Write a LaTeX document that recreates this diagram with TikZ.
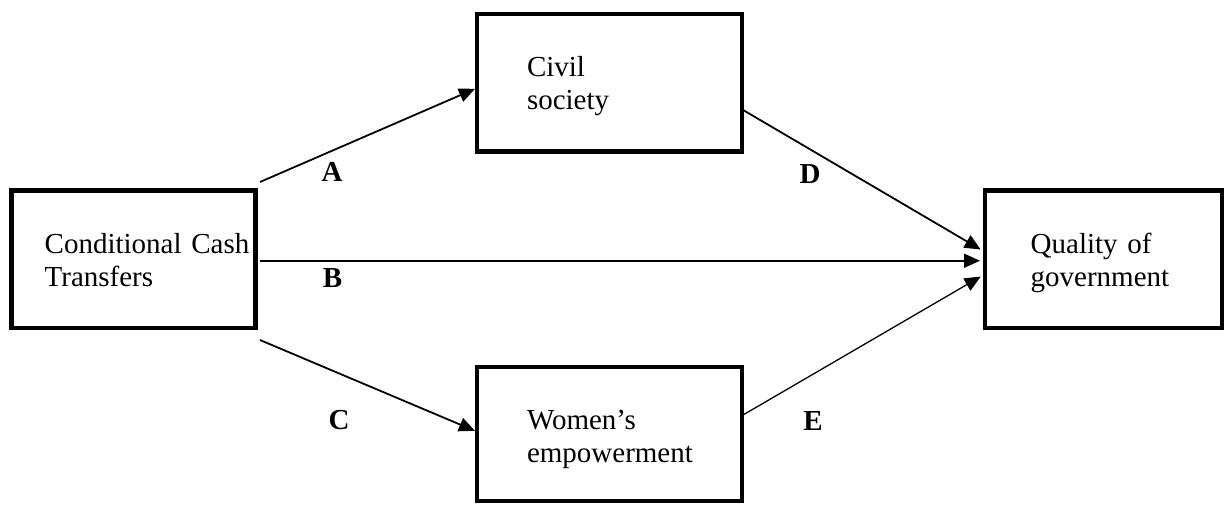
\documentclass[tikz,border=0pt]{standalone}
\usepackage{fontspec}
\setmainfont{Liberation Serif}
\usetikzlibrary{arrows.meta,positioning}

\begin{document}
\begin{tikzpicture}[
  x=1pt, y=1pt,
  node distance=19.5pt and 110.75pt,
  font=\fontsize{14.5pt}{16.5pt}\selectfont,
  box/.style args={#1/#2}{draw, line width=2.25pt, inner sep=0pt, outer sep=0pt, text width=#1, align=left,
    text height=31.35pt, text depth=37.4pt, execute at begin node={\leftskip=#2\rightskip=0pt plus 1fill}},
  line/.style={-{Triangle[length=8pt,width=7pt]}, line width=0.9pt},
  lbl/.style={font=\fontsize{14.5pt}{16.5pt}\selectfont\bfseries, inner sep=0pt}
]
\useasboundingbox (-66.8,-122.375) rectangle (546.2,129.625);
\node[box=121.9pt/16.5pt] (cct) at (0,0) {Conditional Cash\\Transfers};
\node[box=132.5pt/25pt, above right=of cct] (civil) {Civil\\society};
\node[box=132.5pt/25pt, text depth=35.65pt, below right=of cct] (women) {Women’s\\empowerment};
\node[box=118.5pt/22.85pt, right=364.75pt of cct] (quality) {Quality of\\government};

\draw[line, shorten >=1.1pt] ([shift={(2.25pt,4.25pt)}]cct.north east) -- node[lbl, pos=0.332, yshift=-10.6pt] {A} ([yshift=-2.6pt]civil.west);
\draw[line, shorten >=2.5pt] ([shift={(2.25pt,-0.75pt)}]cct.east) -- node[lbl, pos=0.1, yshift=-8.4pt] {B} ([yshift=-0.75pt]quality.west);
\draw[line, shorten >=1.1pt] ([shift={(2.25pt,-6pt)}]cct.south east) -- node[lbl, pos=0.364, yshift=-23.3pt] {C} ([yshift=1.15pt]women.west);
\draw[line, shorten >=2.5pt] ([shift={(0.5pt,-13.6pt)}]civil.east) -- node[lbl, pos=0.277, yshift=-12.35pt] {D} ([yshift=3.6pt]quality.west);
\draw[line, line width=0.65pt, shorten >=2.5pt] ([shift={(0.5pt,9.5pt)}]women.east) -- node[lbl, pos=0.289, yshift=-23.6pt] {E} ([yshift=-7.4pt]quality.west);
\end{tikzpicture}
\end{document}
